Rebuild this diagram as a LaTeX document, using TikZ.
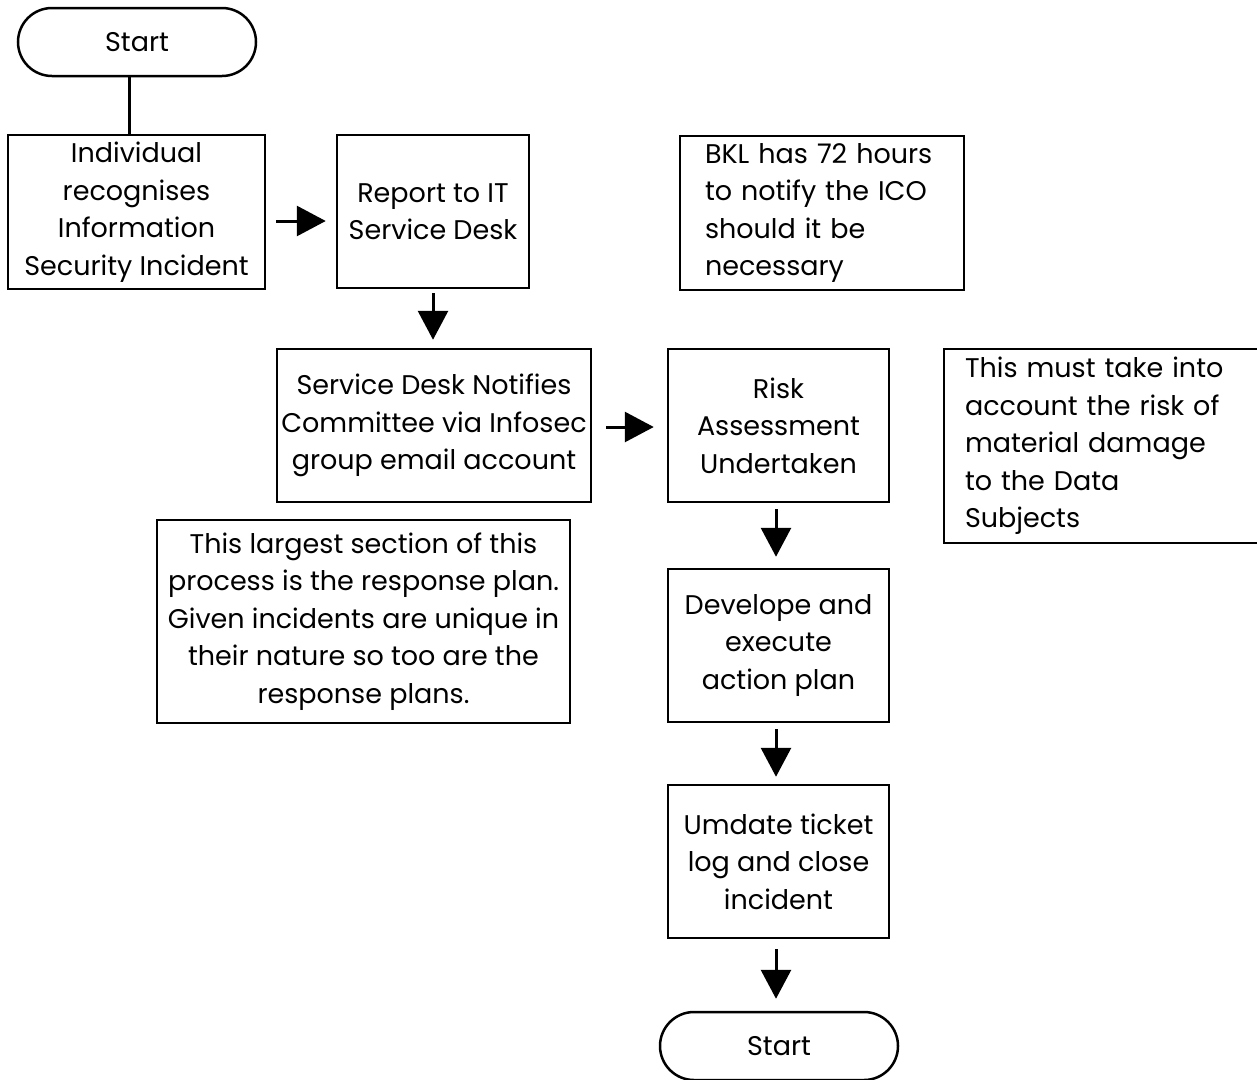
\documentclass[tikz,border=0pt]{standalone}
\usepackage{fontspec}
\setmainfont{Poppins}
\usetikzlibrary{arrows.meta,calc}
\begin{document}
\begin{tikzpicture}[x=1pt,y=-1pt,
  every node/.style={font=\fontsize{27}{37.5}\selectfont},
  stadium/.style={draw,line width=2.5pt,rounded corners=34pt,minimum width=238pt,minimum height=68pt,inner sep=0pt},
  box/.style={draw,line width=2.5pt,inner sep=0pt,align=center},
  lbox/.style={draw,line width=2.5pt,inner ysep=0pt,align=left},
  conn/.style={line width=3pt},
  arr/.style={line width=3pt,-{Triangle[length=29pt,width=30pt]}}]
\clip (0,0) rectangle (1257,1079);
\fill[white] (0,0) rectangle (1257,1079);
\node[stadium] (s1) at (137,42) {Start};
\node[box,minimum width=257pt,minimum height=154pt] (b1) at (136.5,212) {Individual\\recognises\\Information\\Security Incident};
\node[box,minimum width=192pt,minimum height=153pt] (b2) at (433,211.5) {Report to IT\\Service Desk};
\node[lbox,inner xsep=25pt,text width=234pt,minimum height=154pt] (bkl) at (822,213) {BKL has 72 hours\\to notify the ICO\\should it be\\necessary};
\node[box,minimum width=314pt,minimum height=153pt] (b3) at (434,425.5) {Service Desk Notifies\\Committee via Infosec\\group email account};
\node[box,minimum width=221pt,minimum height=153pt] (risk) at (778.5,425.5) {Risk\\Assessment\\Undertaken};
\node[lbox,inner xsep=21pt,text width=284pt,minimum height=194pt] (n2) at (1107,446) {This must take into\\account the risk of\\material damage\\to the Data\\Subjects};
\node[box,minimum width=413pt,minimum height=203pt] (n1) at (363.5,621.5) {This largest section of this\\process is the response plan.\\Given incidents are unique in\\their nature so too are the\\response plans.};
\node[box,minimum width=221pt,minimum height=153pt] (dev) at (778.5,645.5) {Develope and\\execute\\action plan};
\node[box,minimum width=221pt,minimum height=153pt] (upd) at (778.5,861.5) {Umdate ticket\\log and close\\incident};
\node[stadium] (s2) at (779,1046) {Start};
\draw[conn] ($(s1.south)+(-8,0)$) -- ($(b1.north)+(-7.5,0)$);
\draw[arr,shorten <=10pt,shorten >=10pt] ($(b1.east)+(0,9)$) -- ($(b2.west)+(0,9.5)$);
\draw[arr,shorten <=4pt,shorten >=8pt] (b2.south) -- (b2.south|-b3.north);
\draw[arr,shorten <=14pt,shorten >=13pt] ($(b3.east)+(0,1.5)$) -- ($(risk.west)+(0,1.5)$);
\draw[arr,shorten <=6pt,shorten >=11pt] ($(risk.south)+(-2.5,0)$) -- ($(dev.north)+(-2.5,0)$);
\draw[arr,shorten <=6pt,shorten >=7pt] ($(dev.south)+(-2.5,0)$) -- ($(upd.north)+(-2.5,0)$);
\draw[arr,shorten <=10pt,shorten >=12pt] ($(upd.south)+(-2.5,0)$) -- ($(s2.north)+(-3,0)$);
\end{tikzpicture}
\end{document}
